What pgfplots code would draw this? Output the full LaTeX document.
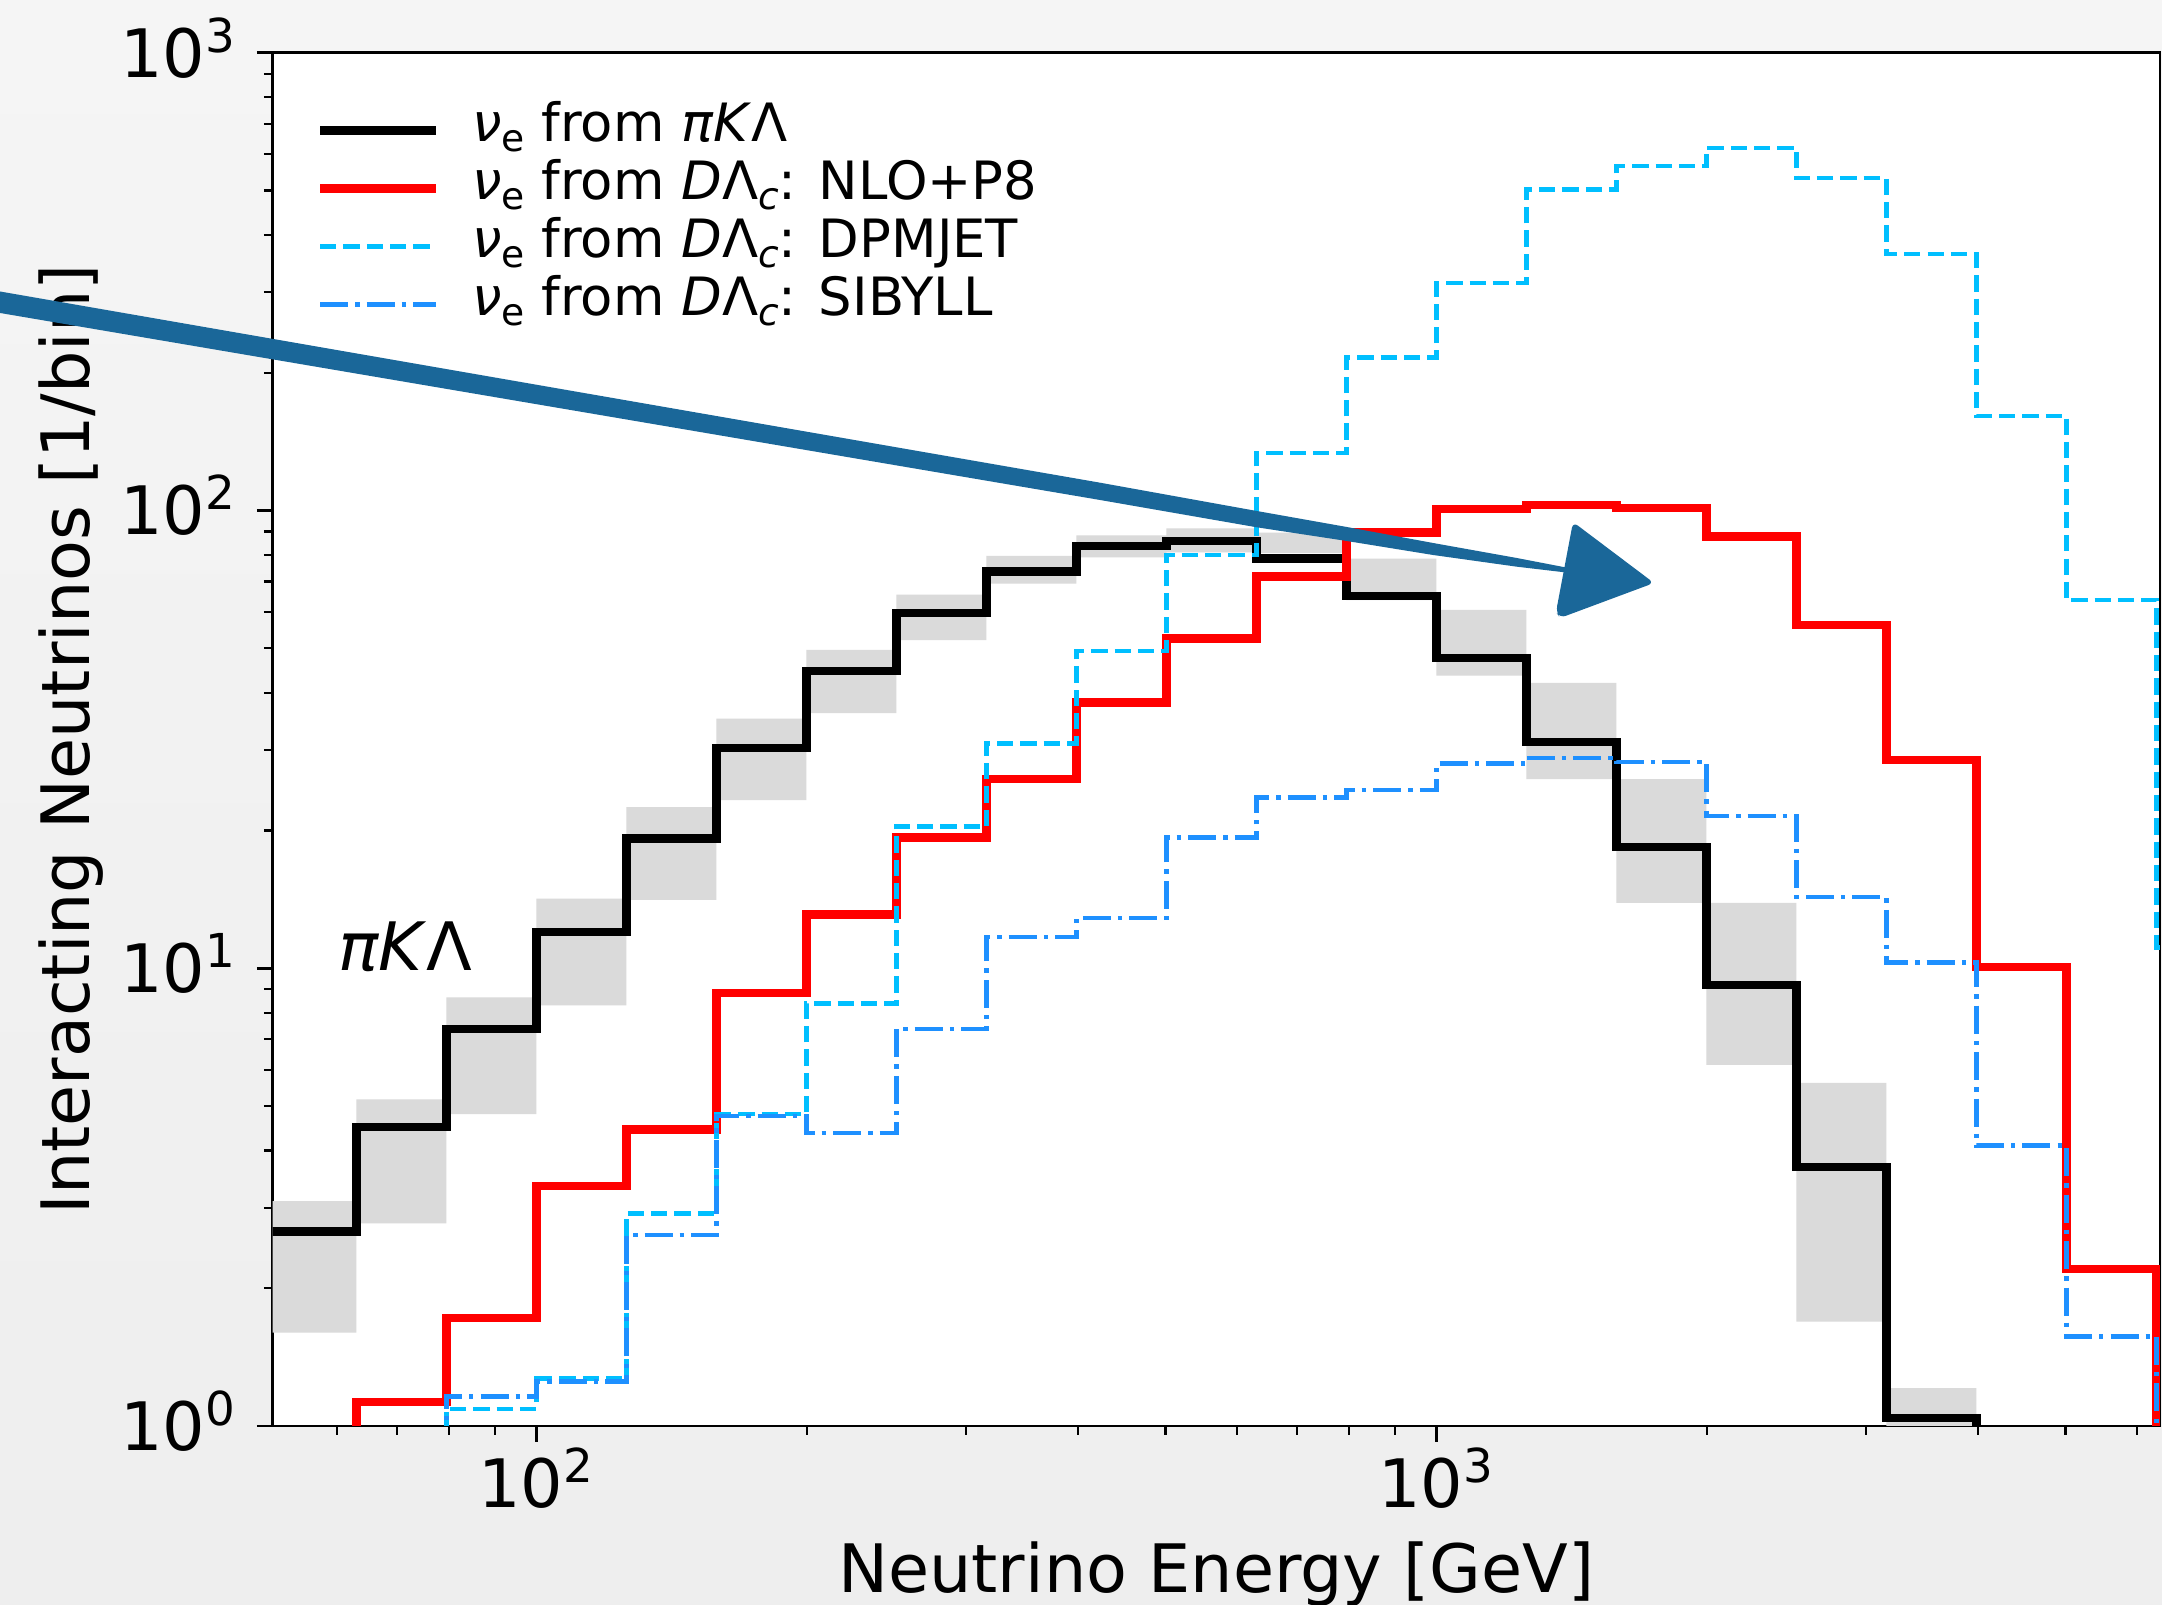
\documentclass[border=0pt]{standalone}
\usepackage{fontspec}
\setmainfont{DejaVu Sans}
\usepackage{pgfplots}
\pgfplotsset{compat=1.18}
\definecolor{dpm}{HTML}{00BFFF}
\definecolor{sib}{HTML}{1E90FF}
\definecolor{arrowc}{HTML}{1A6799}
\definecolor{band}{HTML}{DADADA}
\definecolor{bgtop}{HTML}{F5F5F5}
\definecolor{bgbot}{HTML}{EEEEEE}
\newcommand{\tfont}{\fontsize{16.7}{20}\selectfont}
\newcommand{\lfont}{\fontsize{13.2}{14.5}\selectfont}
\newcommand{\sbs}[1]{\raisebox{-2.4pt}{\fontsize{9.4}{10}\selectfont #1}}
\newcommand{\nue}{\textit{ν}\sbs{e}}
\newcommand{\DLc}{\textit{D}Λ\sbs{\textit{c}}}
\begin{document}
\begin{tikzpicture}
\path[use as bounding box] (0pt,0pt) rectangle (540.5pt,401.25pt);
\shade[top color=bgtop, bottom color=bgbot] (0pt,0pt) rectangle (540.5pt,401.25pt);
\begin{scope}
\clip (0pt,0pt) rectangle (540.5pt,401.25pt);
\begin{axis}[
  at={(68.175pt,44.75pt)}, anchor=south west,
  scale only axis, width=471.8pt, height=343.3pt,
  xmode=log, ymode=log,
  xmin=50.93, xmax=6368, ymin=1, ymax=1000,
  axis background/.style={fill=white},
  axis line style={line width=0.7pt},
  tick align=outside, tick pos=left,
  major tick length=4pt, minor tick length=2.2pt,
  every major tick/.style={black, line width=0.7pt},
  every minor tick/.style={black, line width=0.55pt},
  xtick={100,1000}, xticklabels={10\textsuperscript{2},10\textsuperscript{3}},
  ytick={1,10,100,1000},
  yticklabels={10\textsuperscript{0},10\textsuperscript{1},10\textsuperscript{2},10\textsuperscript{3}},
  minor xtick={60,70,80,90,200,300,400,500,600,700,800,900,2000,3000,4000,5000,6000},
  minor ytick={2,3,4,5,6,7,8,9,20,30,40,50,60,70,80,90,200,300,400,500,600,700,800,900},
  tick label style={font=\tfont, inner sep=0pt},
  xticklabel style={anchor=base, yshift=-16.5pt},
  yticklabel style={anchor=base east, xshift=-4.7pt, yshift=-6.1pt},
  xlabel={Neutrino Energy [GeV]},
  ylabel={Interacting Neutrinos [1/bin]},
  label style={font=\tfont},
  xlabel style={at={(axis description cs:0.5,-0.1216)}, anchor=base, inner sep=0pt},
  ylabel style={at={(axis description cs:-0.0973,0.5)}, anchor=base, inner sep=0pt},
  legend image code/.code={\draw[#1] (0pt,0pt) -- (29pt,0pt);},
  legend style={at={(0.0229,0.9645)}, anchor=north west, draw=none, fill=none,
    inner sep=0pt, outer sep=0pt, font=\lfont, column sep=8pt, row sep=0pt,
    nodes={inner sep=0pt, text height=10pt, text depth=4.5pt}},
  legend cell align=left,
]
% uncertainty band of the piKLambda histogram (upper edge forwards, lower edge backwards)
\addplot[fill=band, draw=none, forget plot] coordinates {
(50.119,3.10) (63.096,3.10) (63.096,5.17) (79.433,5.17) (79.433,8.64) (100,8.64)
(100,14.2) (125.89,14.2) (125.89,22.5) (158.49,22.5) (158.49,35.1) (199.53,35.1)
(199.53,49.6) (251.19,49.6) (251.19,65.5) (316.23,65.5) (316.23,79.6) (398.11,79.6)
(398.11,88.3) (501.19,88.3) (501.19,91.4) (630.96,91.4) (630.96,89.5) (794.33,89.5)
(794.33,78.5) (1000,78.5) (1000,60.7) (1258.9,60.7) (1258.9,42.0) (1584.9,42.0)
(1584.9,25.9) (1995.3,25.9) (1995.3,13.9) (2511.9,13.9) (2511.9,5.62) (3162.3,5.62)
(3162.3,1.21) (3981.1,1.21)
(3981.1,0.5) (3162.3,0.5) (3162.3,1.69) (2511.9,1.69) (2511.9,6.15) (1995.3,6.15)
(1995.3,13.9) (1584.9,13.9) (1584.9,25.9) (1258.9,25.9) (1258.9,43.6) (1000,43.6)
(1000,63.7) (794.33,63.7) (794.33,80.7) (630.96,80.7) (630.96,81.0) (501.19,81.0)
(501.19,79.0) (398.11,79.0) (398.11,69.2) (316.23,69.2) (316.23,52.1) (251.19,52.1)
(251.19,36.1) (199.53,36.1) (199.53,23.3) (158.49,23.3) (158.49,14.1) (125.89,14.1)
(125.89,8.3) (100,8.3) (100,4.80) (79.433,4.80) (79.433,2.77) (63.096,2.77)
(63.096,1.60) (50.119,1.60) (50.119,3.10)};
% nu_e from pi K Lambda
\addplot[black, line width=2.1pt, line join=miter, const plot mark left] coordinates {
(50.119,2.66) (63.096,4.5) (79.433,7.37) (100,12.0) (125.89,19.2) (158.49,30.3)
(199.53,44.6) (251.19,59.8) (316.23,73.6) (398.11,83.6) (501.19,85.9) (630.96,78.5)
(794.33,65.0) (1000,47.6) (1258.9,31.2) (1584.9,18.4) (1995.3,9.2) (2511.9,3.68)
(3162.3,1.04) (3981.1,0.01)};
\addlegendentry{\nue{} from \textit{πK}Λ}
% NLO+P8
\addplot[red, line width=2.1pt, line join=miter, const plot mark left] coordinates {
(50.119,0.01) (63.096,1.13) (79.433,1.72) (100,3.34) (125.89,4.44) (158.49,8.83)
(199.53,13.1) (251.19,19.3) (316.23,25.9) (398.11,38.1) (501.19,52.5) (630.96,71.7)
(794.33,89.5) (1000,100.7) (1258.9,102.8) (1584.9,101.4) (1995.3,87.7) (2511.9,56.2)
(3162.3,28.5) (3981.1,10.07) (5011.9,2.20) (6309.6,0.01)};
\addlegendentry{\nue{} from \DLc: NLO+P8}
% DPMJET
\addplot[dpm, line width=1.1pt, dash pattern=on 4.07pt off 1.76pt, const plot mark left] coordinates {
(63.096,0.01) (79.433,1.09) (100,1.27) (125.89,2.91) (158.49,4.80)
(199.53,8.37) (251.19,20.4) (316.23,31.0) (398.11,49.3) (501.19,80.0) (630.96,133.5)
(794.33,216) (1000,314) (1258.9,503) (1584.9,566) (1995.3,620) (2511.9,532)
(3162.3,363) (3981.1,161) (5011.9,63.7) (6309.6,11.1) (7943.3,11.1)};
\addlegendentry{\nue{} from \DLc: DPMJET}
% SIBYLL
\addplot[sib, line width=1.1pt, dash pattern=on 7pt off 1.76pt on 1.1pt off 1.76pt, const plot mark left] coordinates {
(63.096,0.01) (79.433,1.16) (100,1.25) (125.89,2.61) (158.49,4.76)
(199.53,4.36) (251.19,7.37) (316.23,11.7) (398.11,12.86) (501.19,19.3) (630.96,23.6)
(794.33,24.5) (1000,28.0) (1258.9,28.8) (1584.9,28.2) (1995.3,21.5) (2511.9,14.3)
(3162.3,10.3) (3981.1,4.10) (5011.9,1.57) (6309.6,0.01)};
\addlegendentry{\nue{} from \DLc: SIBYLL}
\node[anchor=base west, font=\tfont, inner sep=0pt] at (axis cs:60.1,9.9) {\textit{πK}Λ};
\end{axis}
% annotation arrow (pixel units, origin top left)
\begin{scope}[shift={(0pt,401.25pt)}, x=0.25pt, y=-0.25pt]
\fill[arrowc] (0,291.5) -- (1100,482.7) -- (1256.7,511) -- (1346.7,527) -- (1433,543)
  -- (1516.7,558) -- (1566,567.5)
  -- (1566,572.5) -- (1516.7,566.7) -- (1433,555) -- (1346.7,541) -- (1256.7,527.3)
  -- (1100,500) -- (0,313) -- cycle;
\fill[arrowc, rounded corners=1.5pt] (1573,522) -- (1654,583) -- (1560,618) -- (1556,612) -- cycle;
\end{scope}
\end{scope}
\end{tikzpicture}
\end{document}
